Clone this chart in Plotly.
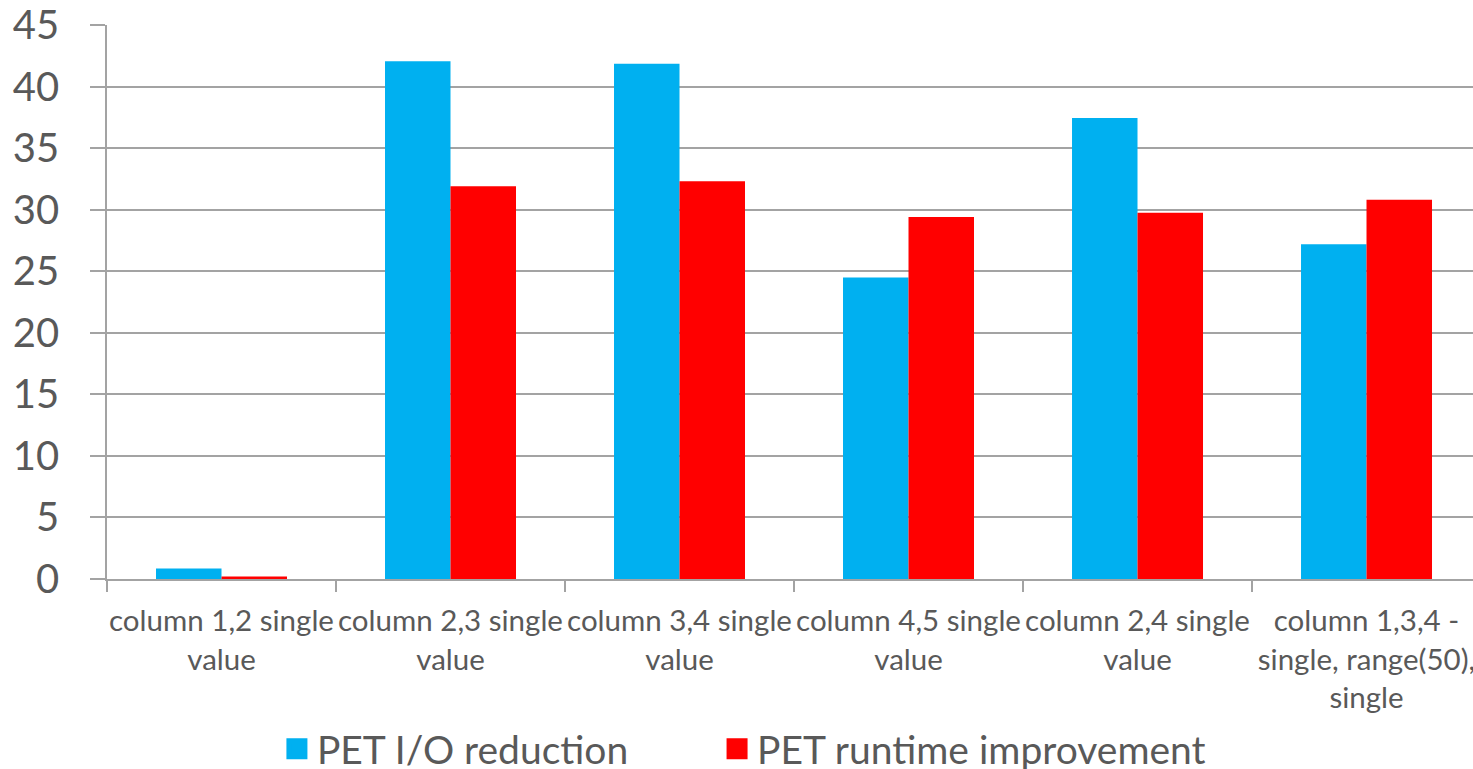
import plotly.graph_objects as go

# Query pattern categories (multi-line labels)
categories = [
    "column 1,2 single<br>value",
    "column 2,3 single<br>value",
    "column 3,4 single<br>value",
    "column 4,5 single<br>value",
    "column 2,4 single<br>value",
    "column 1,3,4 -<br>single, range(50),<br>single",
]

io_reduction = [0.85, 42.05, 41.85, 24.5, 37.45, 27.2]
runtime_improvement = [0.2, 31.9, 32.3, 29.4, 29.75, 30.8]

series_names = ["PET I/O reduction", "PET runtime improvement"]
series_colors = ["#00B0F0", "#FF0000"]
legend_ids = ["legend", "legend2"]
legend_x = [0.188, 0.4868]

y_ticks = [0, 5, 10, 15, 20, 25, 30, 35, 40, 45]

GRID = "#A3A3A3"
TEXT = "#595959"
FONT = "Lato"

fig = go.Figure()

for name, vals, color, lg in zip(series_names, [io_reduction, runtime_improvement],
                                 series_colors, legend_ids):
    fig.add_trace(go.Bar(
        x=categories, y=vals, name=name,
        marker=dict(color=color, line=dict(width=0)),
        showlegend=False,
    ))
    # legend entry with a larger square swatch
    fig.add_trace(go.Scatter(
        x=[None], y=[None], mode="markers", name=name,
        marker=dict(symbol="square", size=16, color=color,
                    line=dict(color=color, width=5)),
        showlegend=True, legend=lg,
    ))

legend_style = dict(
    orientation="h", xref="container", yref="container",
    xanchor="left", y=0.026, yanchor="middle",
    font=dict(size=39, color=TEXT, family=FONT),
    itemsizing="trace", bgcolor="rgba(0,0,0,0)", borderwidth=0,
)

fig.update_layout(
    width=1473, height=769,
    template="none",
    paper_bgcolor="white", plot_bgcolor="white",
    margin=dict(l=107, r=0, t=25, b=190),
    barmode="group", bargap=0.428, bargroupgap=0,
    font=dict(family=FONT, color=TEXT),
    legend=dict(x=legend_x[0], **legend_style),
    legend2=dict(x=legend_x[1], **legend_style),
)

fig.update_xaxes(
    type="category",
    range=[-0.5, 5.465],
    showgrid=False, zeroline=False,
    showline=True, linecolor=GRID, linewidth=1.5,
    ticks="outside", tickson="boundaries", ticklen=11, tickwidth=1.5, tickcolor=GRID,
    tickfont=dict(size=29.5, color=TEXT, family=FONT),
    tickangle=0,
    ticklabelstandoff=15,
    automargin=False,
)

fig.update_yaxes(
    range=[0, 45],
    tickvals=y_ticks,
    showgrid=True, gridcolor=GRID, gridwidth=1.5,
    zeroline=False,
    showline=True, linecolor=GRID, linewidth=1.5,
    ticks="outside", ticklen=15, tickwidth=1.5, tickcolor=GRID,
    tickfont=dict(size=40, color=TEXT, family=FONT),
    ticklabelstandoff=23,
    automargin=False,
)

fig.write_html("out.html")
